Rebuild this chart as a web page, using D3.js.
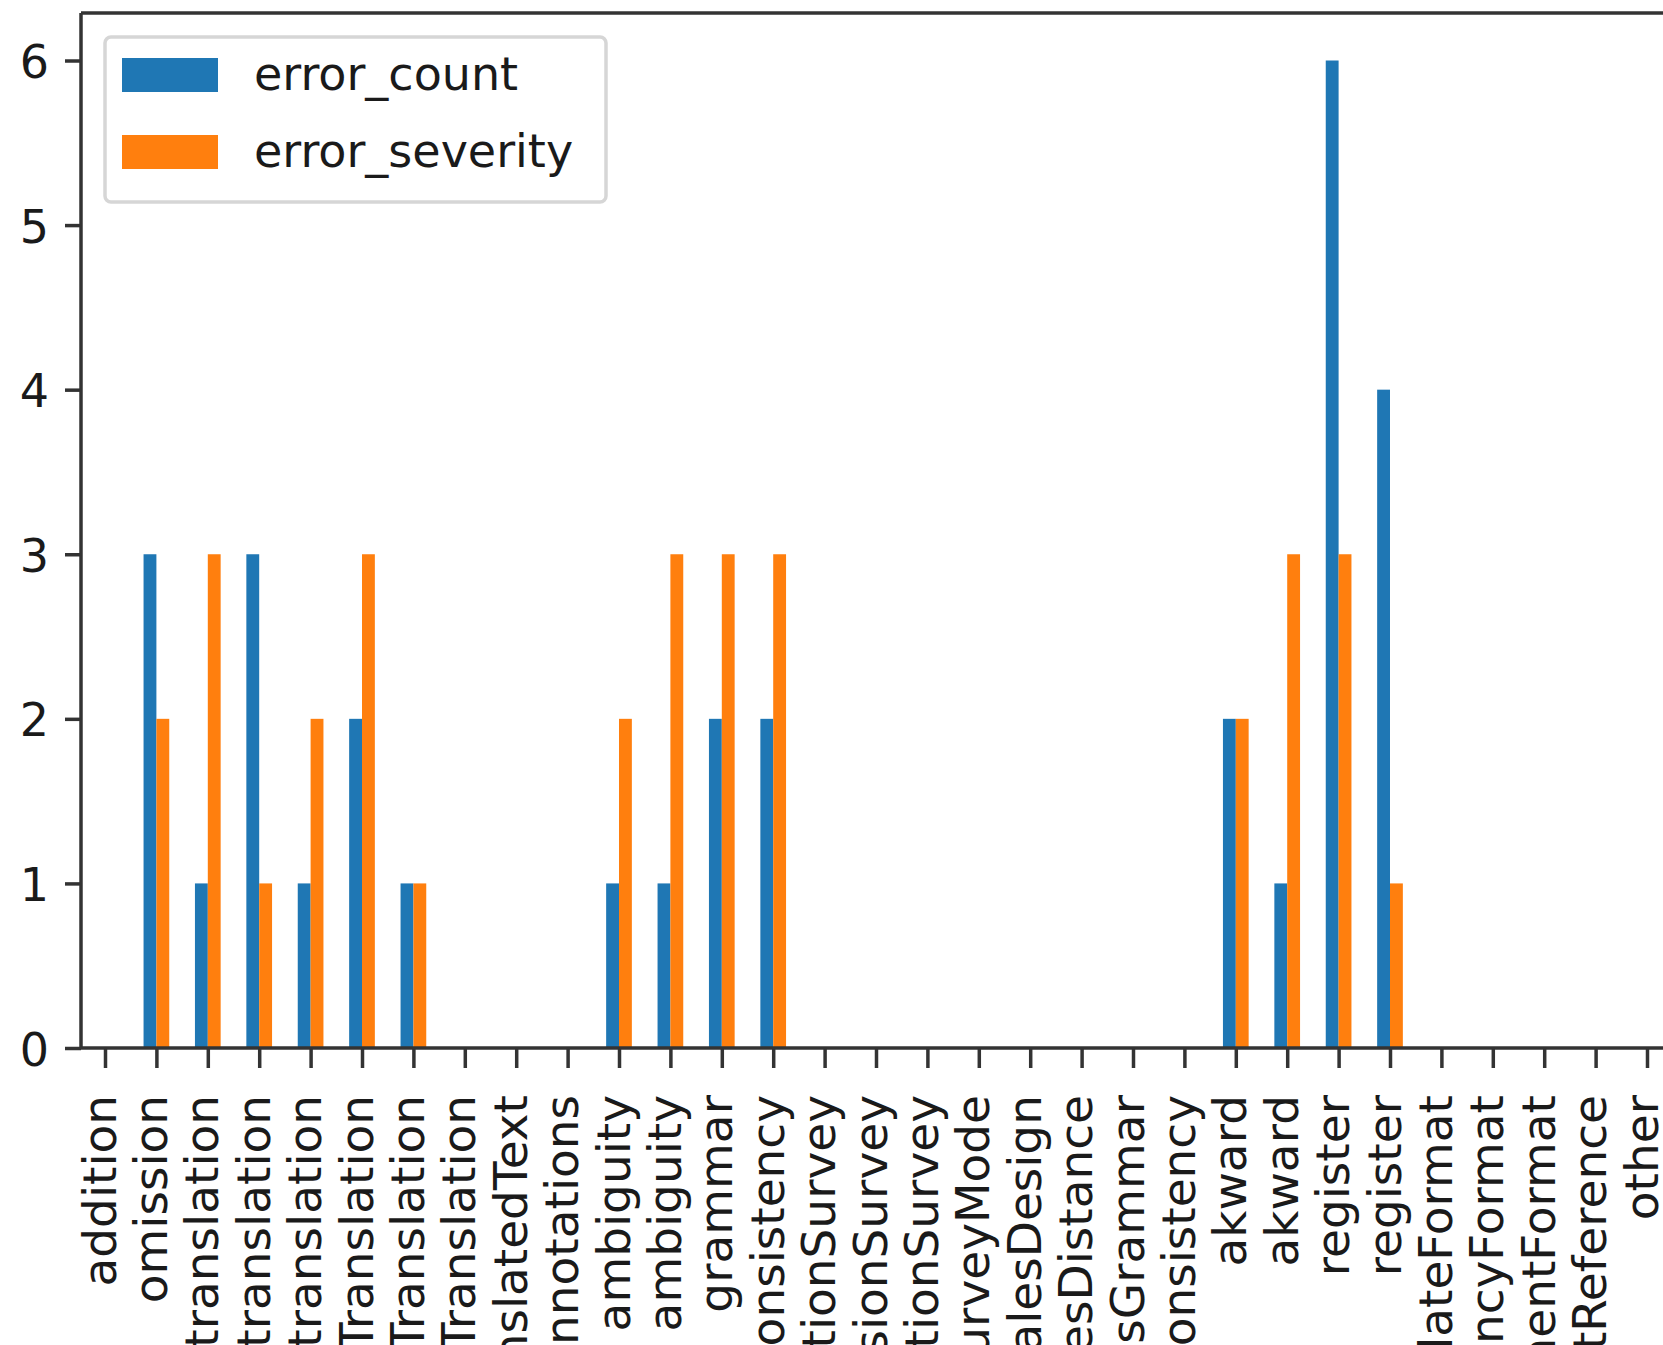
<!DOCTYPE html>
<html>
<head>
<meta charset="utf-8">
<script src="https://cdn.jsdelivr.net/npm/d3@7"></script>
<style>
  body { margin: 0; background: #fff; }
  svg { display: block; }
  text { font-family: "DejaVu Sans", sans-serif; fill: #1a1a1a; }
</style>
</head>
<body>
<svg width="1663" height="1345"></svg>
<script>
const categories = [
    'addition', 'omission', 'mistranslation', 'overtranslation', 'undertranslation',
    'termTranslation', 'entityTranslation', 'noTranslation', 'untranslatedText', 'missing annotations',
    'lexical ambiguity', 'syntactic ambiguity', 'grammar', 'inconsistency', 'formulationSurvey',
    'comprehensionSurvey', 'adaptationSurvey', 'surveyMode', 'scalesDesign', 'scalesDistance',
    'scalesGrammar', 'scalesInconsistency', 'akward', 'akward', 'register',
    'register', 'dateFormat', 'currencyFormat', 'measurementFormat', 'incorrectReference',
    'other'
];
const errorCount = [0, 3, 1, 3, 1, 2, 1, 0, 0, 0, 1, 1, 2, 2, 0, 0, 0, 0, 0, 0, 0, 0, 2, 1, 6, 4, 0, 0, 0, 0, 0];
const errorSeverity = [0, 2, 3, 1, 2, 3, 1, 0, 0, 0, 2, 3, 3, 3, 0, 0, 0, 0, 0, 0, 0, 0, 2, 3, 3, 1, 0, 0, 0, 0, 0];
const seriesNames = ['error_count', 'error_severity'];
const yTicks = [0, 1, 2, 3, 4, 5, 6];

const colors = ['#1f77b4', '#ff7f0e'];
const svg = d3.select('svg');
const width = +svg.attr('width');

const margin = { left: 81, top: 13, bottom: 1048 };
const barW = 0.25;
const fontSize = 46;

const x = d3.scaleLinear().domain([0, categories.length - 1]).range([105, 1647]);
const y = d3.scaleLinear().domain([0, 6]).range([margin.bottom, 60.5]);

const series = [errorCount, errorSeverity];

// bars: blue left of the tick, orange right of it
series.forEach((vals, s) => {
    svg.append('g')
        .selectAll('rect')
        .data(vals)
        .enter()
        .append('rect')
        .attr('x', (d, i) => x(i + (s - 1) * barW))
        .attr('width', x(barW) - x(0))
        .attr('y', (d) => y(d))
        .attr('height', (d) => y(0) - y(d))
        .attr('fill', colors[s]);
});

// y axis
const yAxisG = svg.append('g')
    .attr('transform', `translate(${margin.left},0)`)
    .call(d3.axisLeft(y).tickValues(yTicks).tickSize(16).tickFormat(d3.format('d')));
yAxisG.select('.domain').remove();
yAxisG.selectAll('.tick line').attr('stroke', '#333').attr('stroke-width', 3.5);
yAxisG.selectAll('.tick text')
    .attr('x', -32).attr('y', 17).attr('dy', null)
    .attr('font-size', fontSize)
    .attr('text-anchor', 'end');

// x axis, labels turned upright
const xAxisG = svg.append('g')
    .attr('transform', `translate(0,${margin.bottom})`)
    .call(d3.axisBottom(x).tickValues(d3.range(categories.length)).tickSize(20).tickFormat((i) => categories[i]));
xAxisG.select('.domain').remove();
xAxisG.selectAll('.tick line').attr('stroke', '#333').attr('stroke-width', 3.5);
xAxisG.selectAll('.tick text')
    .attr('x', 0).attr('y', 0).attr('dy', null)
    .attr('transform', 'translate(10,47) rotate(-90)')
    .attr('font-size', 47)
    .attr('text-anchor', 'end');

// spines (right one falls outside the picture)
const spine = svg.append('g').attr('stroke', '#333').attr('stroke-width', 3.5).attr('fill', 'none');
spine.append('line').attr('x1', margin.left).attr('x2', margin.left).attr('y1', margin.top).attr('y2', margin.bottom);
spine.append('line').attr('x1', margin.left).attr('x2', width + 10).attr('y1', margin.bottom).attr('y2', margin.bottom);
spine.append('line').attr('x1', margin.left).attr('x2', width + 10).attr('y1', margin.top).attr('y2', margin.top);

// legend
const legend = svg.append('g');
legend.append('rect')
    .attr('x', 105).attr('y', 37).attr('width', 501).attr('height', 165)
    .attr('rx', 6)
    .attr('fill', '#fff').attr('fill-opacity', 0.8)
    .attr('stroke', '#d6d6d6').attr('stroke-width', 3.5);
seriesNames.forEach((name, s) => {
    const row = legend.append('g').attr('transform', `translate(0,${s * 77})`);
    row.append('rect')
        .attr('x', 122).attr('y', 58).attr('width', 96).attr('height', 34)
        .attr('fill', colors[s]);
    row.append('text')
        .attr('x', 254).attr('y', 90)
        .attr('font-size', fontSize)
        .text(name);
});
</script>
</body>
</html>
